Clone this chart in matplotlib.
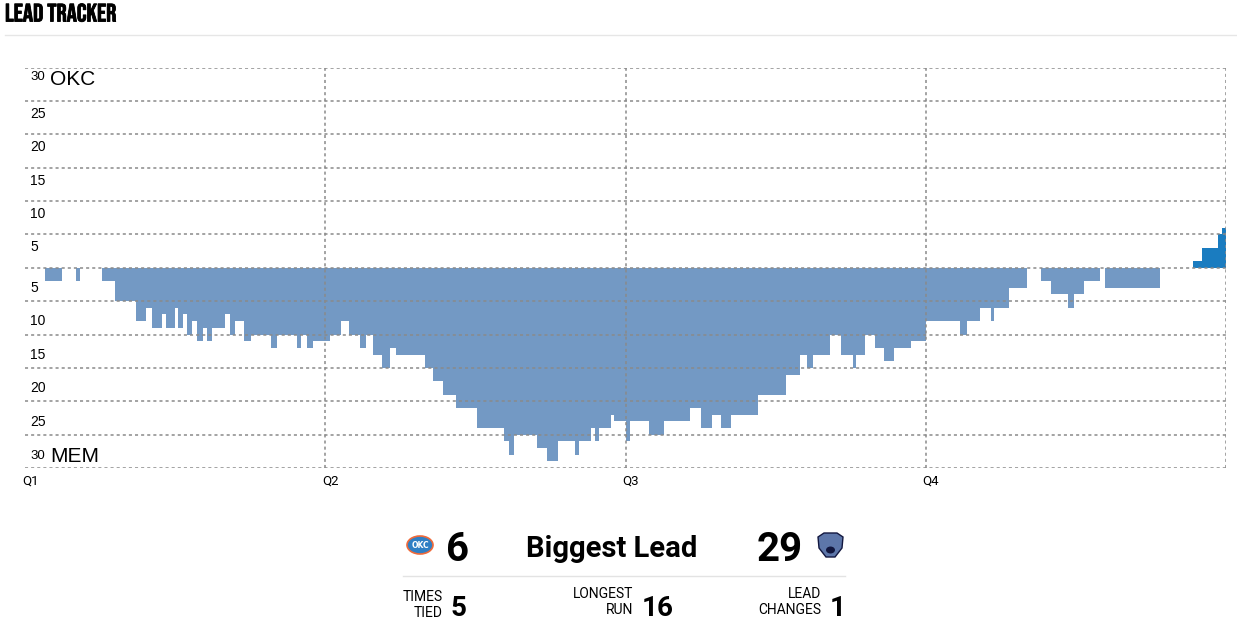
import matplotlib
matplotlib.use("Agg")
import matplotlib.pyplot as plt
import matplotlib.patheffects as pe
from matplotlib.patches import Ellipse, Polygon
from matplotlib import font_manager
import numpy as np

# ---- data: game minute at which each lead segment starts, and the margin (OKC positive, MEM negative)
seg_start = [0, 0.8, 1.47, 2.03, 2.2, 3.09, 3.6, 4.44, 4.83, 5.08, 5.47, 5.65, 6.0, 6.11, 6.31,
             6.48, 6.67, 6.88, 7.12, 7.28, 7.48, 8.0, 8.2, 8.4, 8.76, 9.04, 9.84, 10.07, 10.88,
             11.04, 11.28, 11.52, 12.2, 12.64, 12.96, 13.4, 13.64, 13.92, 14.28, 14.6, 14.84,
             16.0, 16.32, 16.72, 17.24, 18.08, 19.16, 19.36, 19.56, 20.48, 20.88, 21.32, 22.0,
             22.16, 22.64, 22.8, 22.96, 23.44, 23.56, 24.0, 24.16, 24.92, 25.52, 26.56, 27.0,
             27.44, 27.8, 28.2, 29.28, 30.4, 30.96, 31.24, 31.48, 32.16, 32.6, 33.08, 33.2,
             33.56, 33.96, 34.32, 34.72, 35.4, 36.0, 37.36, 37.64, 38.16, 38.6, 38.72, 39.32,
             40.04, 40.6, 41.0, 41.68, 41.92, 42.32, 42.96, 43.16, 45.36, 46.68, 47.04, 47.68,
             47.84]
margin = [0, -2, 0, -2, 0, -2, -5, -8, -6, -9, -7, -9, -6, -9, -7,
          -10, -8, -11, -9, -11, -9, -7, -10, -8, -11, -10, -12, -10, -12,
          -10, -12, -11, -10, -8, -10, -12, -10, -13, -15, -12, -13,
          -15, -17, -19, -21, -24, -26, -28, -25, -27, -29, -26, -28,
          -26, -24, -26, -24, -22, -23, -26, -23, -25, -23, -21, -24,
          -22, -24, -22, -19, -16, -13, -15, -13, -10, -13, -15, -13,
          -10, -12, -14, -12, -11, -8, -10, -8, -6, -8, -6, -3,
          0, -2, -4, -6, -4, -2, 0, -3, 0, 1, 3, 5,
          6]
game_end = 48
quarter_labels = ["Q1", "Q2", "Q3", "Q4"]
quarter_starts = [0, 12, 24, 36]
y_ticks = [5, 10, 15, 20, 25, 30]
teams = ["OKC", "MEM"]
biggest_lead = [6, 29]
times_tied = 5
longest_run = 16
lead_changes = 1

MEM_COLOR = "#7399c4"
OKC_COLOR = "#1a7cc0"
GRID = "#8a8a8a"

W, H = 1237, 626
fig = plt.figure(figsize=(W / 100, H / 100), dpi=100)
fig.patch.set_facecolor("white")

def fx(px):
    return px / W

def fy(py):
    return 1 - py / H

ax = fig.add_axes([fx(25), fy(468), fx(1226) - fx(25), fy(67.5) - fy(468)])
ax.set_xlim(0, game_end)
ax.set_ylim(-30, 30)
for s in ax.spines.values():
    s.set_visible(False)
ax.set_xticks([])
ax.set_yticks([])

starts = np.array(seg_start)
ends = np.append(starts[1:], game_end)
widths = ends - starts
vals = np.array(margin)
colors = [OKC_COLOR if v > 0 else MEM_COLOR for v in vals]
ax.bar(starts, vals, width=widths, align="edge", color=colors, linewidth=0,
       antialiased=False, zorder=1)

# grid
for v in range(-30, 31, 5):
    ax.axhline(v, color=GRID, lw=1.1, ls=(0, (2, 2)), zorder=3)
for q in quarter_starts[1:] + [game_end]:
    ax.axvline(q, color=GRID, lw=1.1, ls=(0, (2, 2)), zorder=3)

tick_font = "Liberation Sans"
for v in y_ticks:
    if v == 30:
        continue
    ax.text(0.2, v - 0.9, str(v), ha="left", va="top", fontsize=10, family=tick_font, zorder=4)
    ax.text(0.2, -v + 0.9, str(v), ha="left", va="bottom", fontsize=10, family=tick_font, zorder=4)
ax.text(0.2, 29.5, "30", ha="left", va="top", fontsize=9.5, family=tick_font, zorder=4)
ax.text(1.0, 29.7, teams[0], ha="left", va="top", fontsize=15, family=tick_font, zorder=4)
ax.text(0.2, -29.1, "30", ha="left", va="bottom", fontsize=9.5, family=tick_font, zorder=4)
ax.text(1.0, -29.7, teams[1], ha="left", va="bottom", fontsize=15, family=tick_font, zorder=4)

for q, lab in zip(quarter_starts, quarter_labels):
    ax.text(q - 0.12, -31.0, lab, ha="left", va="top", fontsize=9.5, family="Roboto", zorder=4)

# title and header rule
names = {f.name for f in font_manager.fontManager.ttflist}
title_fams = [f for f in ["Bebas Neue", "Anton", "Oswald", "Archivo Narrow"] if f in names]
if title_fams and title_fams[0] == "Bebas Neue":
    fig.text(fx(5), fy(21.5), "LEAD TRACKER", ha="left", va="baseline", fontsize=18.2,
             family=title_fams + ["DejaVu Sans"],
             path_effects=[pe.withStroke(linewidth=0.6, foreground="black")])
elif title_fams:
    fig.text(fx(5), fy(21.5), "LEAD TRACKER", ha="left", va="baseline", fontsize=14,
             family=title_fams + ["DejaVu Sans"])
else:
    fig.text(fx(5), fy(21), "LEAD TRACKER", ha="left", va="baseline", fontsize=12.5,
             fontweight="heavy", family="DejaVu Sans")
fig.add_artist(plt.Line2D([fx(5), fx(1237)], [fy(35), fy(35)], color="#e6e6e6", lw=1))

# bottom stats panel
big = dict(family="Roboto", fontweight="bold", va="baseline")
fig.text(fx(446), fy(561), str(biggest_lead[0]), ha="left", fontsize=29, **big)
fig.text(fx(612), fy(557), "Biggest Lead", ha="center", fontsize=21, **big)
fig.text(fx(803), fy(561), str(biggest_lead[1]), ha="right", fontsize=29, **big)
fig.add_artist(plt.Line2D([fx(403), fx(845)], [fy(576), fy(576)], color="#e3e3e3", lw=1))

small = dict(family="Roboto", fontsize=10, ha="right", va="baseline")
num = dict(family="Roboto", fontweight="bold", fontsize=20, ha="left", va="baseline")
fig.text(fx(443), fy(601), "TIMES", **small)
fig.text(fx(443), fy(617), "TIED", **small)
fig.text(fx(451), fy(616), str(times_tied), **num)
fig.text(fx(633), fy(598), "LONGEST", **small)
fig.text(fx(633), fy(614), "RUN", **small)
fig.text(fx(642), fy(616), str(longest_run), **num)
fig.text(fx(821), fy(598), "LEAD", **small)
fig.text(fx(821), fy(614), "CHANGES", **small)
fig.text(fx(830), fy(616), str(lead_changes), **num)

# simple logo marks
fig.add_artist(Ellipse((fx(420), fy(545)), fx(26), 18 / H, facecolor="#2f7fc4",
                       edgecolor="#ef6a3a", lw=1.2, transform=fig.transFigure))
fig.text(fx(420), fy(545), "OKC", ha="center", va="center", fontsize=5.5,
         color="white", fontweight="bold", family="DejaVu Sans")
bear = [(818, 537), (824, 533), (837, 533), (843, 537), (842, 548), (835, 557),
        (826, 557), (819, 548)]
fig.add_artist(Polygon([(fx(a), fy(b)) for a, b in bear], closed=True,
                       facecolor="#5d76a9", edgecolor="#12173f", lw=1,
                       transform=fig.transFigure))
fig.add_artist(Ellipse((fx(830.5), fy(550)), fx(9), 7 / H, facecolor="#12173f",
                       transform=fig.transFigure))

fig.savefig("out.png", dpi=100, facecolor="white")
